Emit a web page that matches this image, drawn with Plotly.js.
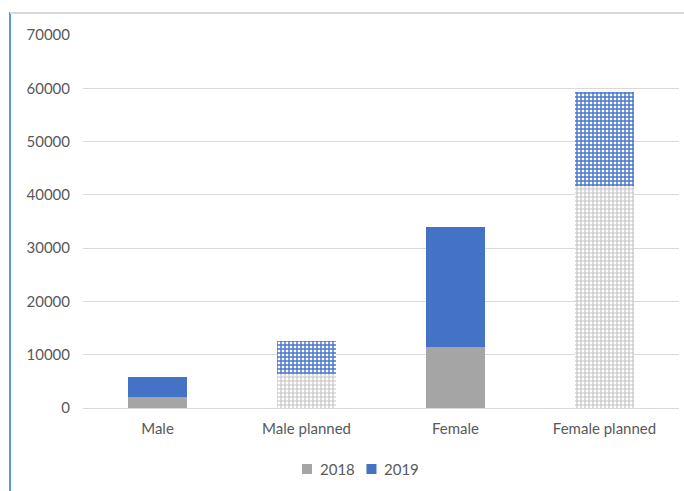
<!DOCTYPE html>
<html>
<head>
<meta charset="utf-8">
<script src="https://cdn.plot.ly/plotly-3.0.1.min.js"></script>
<style>
  html, body { margin: 0; padding: 0; background: #fff; }
  #wrap { position: relative; width: 684px; height: 491px; overflow: hidden; }
  #chart { position: absolute; left: 0; top: 0; width: 684px; height: 491px; }
  #bl { position: absolute; left: 9px; top: 12px; width: 2px; height: 479px; background: #5b9bd5; }
  #bt { position: absolute; left: 10px; top: 12px; width: 674px; height: 2px; background: #d9d9d9; }
</style>
</head>
<body>
<div id="wrap">
  <div id="chart"></div>
  <div id="bl"></div>
  <div id="bt"></div>
</div>
<script>
const categories = ["Male", "Male planned", "Female", "Female planned"];
const values2018 = [2000, 6400, 11500, 41700];
const values2019 = [3800, 6200, 22500, 17600];
const patterned = ["", "+", "", "+"];
const yTicks = [0, 10000, 20000, 30000, 40000, 50000, 60000, 70000];
const seriesNames = ["2018", "2019"];

const grey = "#a5a5a5";
const blue = "#4472c4";
const FONT = "Lato, 'Open Sans', sans-serif";

const traces = [
  {
    type: "bar", name: seriesNames[0], x: categories, y: values2018,
    marker: {
      color: grey, line: { width: 0 },
      pattern: { shape: patterned, fgcolor: "#c4c4c4", bgcolor: "#ffffff", size: 4, solidity: 0.5 }
    },
    hoverinfo: "skip", showlegend: false
  },
  {
    type: "bar", name: seriesNames[1], x: categories, y: values2019,
    marker: {
      color: blue, line: { width: 0 },
      pattern: { shape: patterned, fgcolor: "#4a78cc", bgcolor: "#ffffff", size: 4, solidity: 0.6 }
    },
    hoverinfo: "skip", showlegend: false
  }
];

// legend drawn as real text + small squares
const legendY = -0.1635;
const legendSpec = [
  { name: seriesNames[0], color: grey, sq: 0.3758, tx: 0.3943 },
  { name: seriesNames[1], color: blue, sq: 0.4840, tx: 0.5017 }
];
const shapes = legendSpec.map(s => ({
  type: "rect", xref: "paper", yref: "paper",
  xsizemode: "pixel", ysizemode: "pixel",
  xanchor: s.sq, yanchor: legendY,
  x0: -5, x1: 5, y0: -5, y1: 5,
  fillcolor: s.color, line: { width: 0 }
}));
const annotations = legendSpec.map(s => ({
  xref: "paper", yref: "paper", x: s.tx, y: legendY,
  xanchor: "left", yanchor: "middle", showarrow: false,
  text: s.name, font: { family: FONT, size: 15, color: "#595959" }
}));

const layout = {
  width: 684, height: 491,
  margin: { l: 83, r: 5, t: 35, b: 83 },
  barmode: "stack",
  bargap: 0.6,
  paper_bgcolor: "#fff",
  plot_bgcolor: "#fff",
  font: { family: FONT, size: 15, color: "#595959" },
  showlegend: false,
  shapes: shapes,
  annotations: annotations,
  xaxis: {
    type: "category", showgrid: false, showline: false, zeroline: false,
    ticks: "", ticklabelstandoff: 10,
    tickfont: { family: FONT, size: 15, color: "#595959" }
  },
  yaxis: {
    range: [0, 70000], tickvals: yTicks, ticktext: yTicks.map(String),
    showgrid: true, gridcolor: "#d9d9d9", gridwidth: 1,
    zeroline: true, zerolinecolor: "#d9d9d9", zerolinewidth: 1,
    showline: false,
    ticks: "", ticklabelstandoff: 12,
    tickfont: { family: FONT, size: 15, color: "#595959" }
  }
};

Plotly.newPlot("chart", traces, layout, { displayModeBar: false, staticPlot: true });
</script>
</body>
</html>
